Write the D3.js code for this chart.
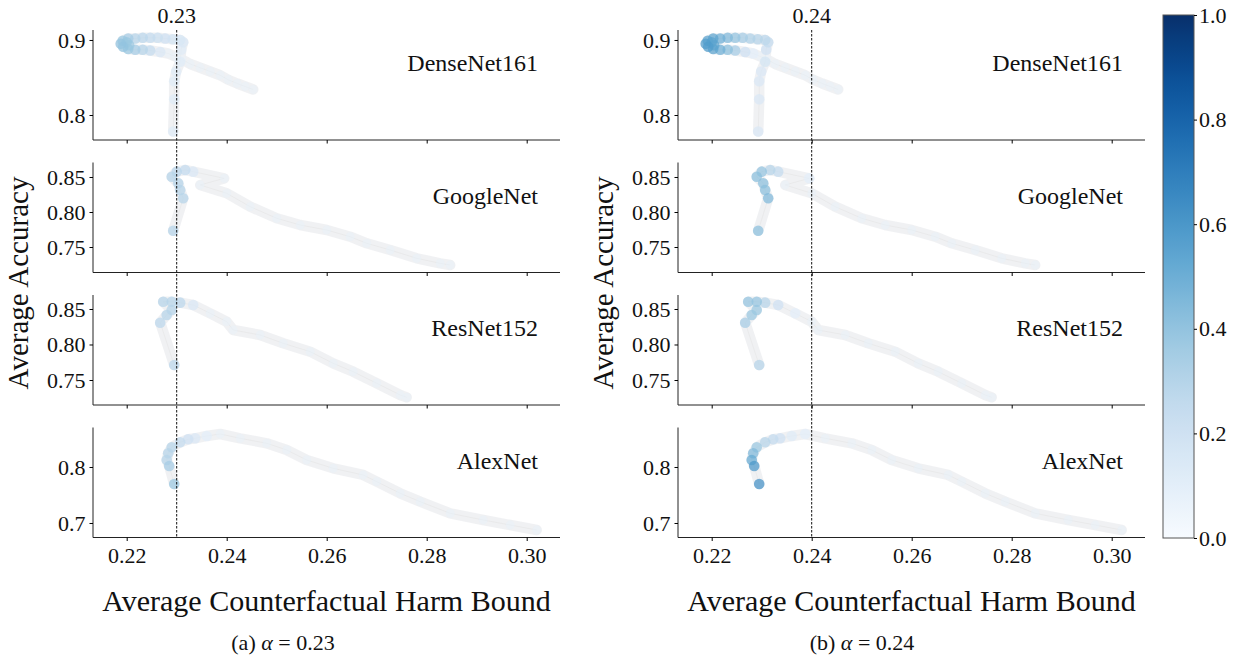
<!DOCTYPE html>
<html><head><meta charset="utf-8">
<script src="https://cdn.jsdelivr.net/npm/d3@7"></script>
<style>body{margin:0;background:#fff}svg{display:block}text{font-family:"Liberation Serif","DejaVu Serif",serif;fill:#111}</style>
</head><body><svg id="c" width="1237" height="661"></svg>
<script>
const models = ["DenseNet161","GoogleNet","ResNet152","AlexNet"];
const alphas = [0.23, 0.24];
const captionTags = ["(a)", "(b)"];
const xTicks = [0.22,0.24,0.26,0.28,0.30];
const xDomain = [0.21326, 0.30666];
const yDomains = [[0.7667,0.9133],[0.7136,0.8707],[0.7148,0.8697],[0.6741,0.8705]];
const yTicks = [[0.8,0.9],[0.75,0.80,0.85],[0.75,0.80,0.85],[0.7,0.8]];
const yFormats = [".1f",".2f",".2f",".1f"];
const cbTicks = [0.0,0.2,0.4,0.6,0.8,1.0];

// DenseNet161
const denseX = [0.2453,0.2437,0.2421,0.2403,0.2387,0.2367,0.2347,0.2327,0.2311,0.2297,0.2283,0.2267,0.2247,0.2232,0.2217,0.2203,0.2193,0.2205,0.2200,0.2188,0.2192,0.2203,0.2217,0.2232,0.2247,0.2262,0.2277,0.2292,0.2307,0.2313,0.2309,0.2307,0.2299,0.2295,0.2295,0.2293];
const denseY = [0.834,0.838,0.842,0.847,0.853,0.858,0.863,0.868,0.874,0.878,0.882,0.884,0.886,0.887,0.887,0.888,0.891,0.893,0.897,0.895,0.899,0.902,0.902,0.903,0.903,0.903,0.902,0.901,0.900,0.897,0.887,0.871,0.858,0.845,0.821,0.778];
const denseC23 = [0.08,0.08,0.08,0.08,0.08,0.08,0.08,0.08,0.08,0.08,0.08,0.15,0.25,0.3,0.35,0.38,0.4,0.38,0.38,0.4,0.38,0.35,0.3,0.28,0.25,0.22,0.2,0.18,0.16,0.15,0.12,0.12,0.12,0.12,0.12,0.12];
const denseC24 = [0.08,0.08,0.08,0.08,0.08,0.08,0.08,0.08,0.08,0.08,0.1,0.2,0.35,0.42,0.5,0.55,0.58,0.55,0.55,0.58,0.55,0.55,0.5,0.45,0.4,0.35,0.32,0.3,0.28,0.25,0.2,0.18,0.15,0.15,0.15,0.15];
// GoogleNet
const googX = [0.2847,0.2827,0.278,0.2727,0.268,0.2647,0.26,0.2547,0.25,0.2447,0.24,0.2347,0.2395,0.2333,0.2317,0.2300,0.229,0.2303,0.2307,0.2313,0.2293];
const googY = [0.7243,0.7267,0.7339,0.7457,0.7553,0.7647,0.7743,0.7814,0.791,0.8076,0.8267,0.8386,0.8481,0.8576,0.860,0.8576,0.8504,0.841,0.8314,0.8196,0.7733];
const googC23 = [0.08,0.08,0.08,0.08,0.08,0.08,0.08,0.08,0.08,0.08,0.08,0.08,0.08,0.15,0.25,0.28,0.3,0.3,0.3,0.3,0.3];
const googC24 = [0.08,0.08,0.08,0.08,0.08,0.08,0.08,0.08,0.08,0.08,0.08,0.08,0.1,0.25,0.3,0.4,0.42,0.42,0.42,0.45,0.42];
// ResNet152
const resX = [0.276,0.2747,0.27,0.2653,0.2613,0.2567,0.2513,0.2467,0.2413,0.24,0.2367,0.2333,0.2307,0.229,0.2273,0.229,0.228,0.2267,0.2295];
const resY = [0.7256,0.7289,0.7454,0.7617,0.7735,0.7899,0.8017,0.8134,0.8204,0.8321,0.8439,0.8556,0.8589,0.8603,0.8603,0.8486,0.8415,0.8307,0.7711];
const resC23 = [0.08,0.08,0.08,0.08,0.08,0.08,0.08,0.08,0.08,0.08,0.08,0.15,0.28,0.3,0.3,0.3,0.3,0.28,0.28];
const resC24 = [0.08,0.08,0.08,0.08,0.08,0.08,0.08,0.08,0.08,0.08,0.1,0.2,0.3,0.4,0.4,0.38,0.38,0.35,0.3];
// AlexNet
const alexX = [0.302,0.2967,0.2913,0.2847,0.2787,0.2747,0.27,0.2673,0.2613,0.256,0.252,0.248,0.2427,0.2387,0.236,0.2337,0.2323,0.2307,0.229,0.2283,0.228,0.2285,0.2295];
const alexY = [0.6875,0.6964,0.7054,0.7173,0.738,0.753,0.7738,0.7857,0.7976,0.8125,0.8304,0.8423,0.8512,0.8589,0.8554,0.8512,0.8495,0.8441,0.8351,0.8245,0.8125,0.8018,0.7696];
const alexC23 = [0.08,0.08,0.08,0.08,0.08,0.08,0.08,0.08,0.08,0.08,0.08,0.08,0.08,0.08,0.1,0.15,0.2,0.25,0.3,0.3,0.3,0.35,0.38];
const alexC24 = [0.08,0.08,0.08,0.08,0.08,0.08,0.08,0.08,0.08,0.08,0.08,0.08,0.08,0.1,0.12,0.2,0.25,0.3,0.38,0.45,0.52,0.6,0.62];

const series = [
  {x:denseX, y:denseY, c:[denseC23, denseC24]},
  {x:googX, y:googY, c:[googC23, googC24]},
  {x:resX, y:resY, c:[resC23, resC24]},
  {x:alexX, y:alexY, c:[alexC23, alexC24]}
];

const svg = d3.select("#c");
const panels = [{x0:93, x1:560, cx:283, ylx:18}, {x0:678, x1:1145, cx:862, ylx:603}];
const rowTops = [30, 162.5, 295, 427.5];
const rowH = 110;

panels.forEach((p, pi) => {
  const x = d3.scaleLinear().domain(xDomain).range([p.x0, p.x1]);
  models.forEach((m, mi) => {
    const top = rowTops[mi], bot = top + rowH;
    const y = d3.scaleLinear().domain(yDomains[mi]).range([bot, top]);
    const g = svg.append("g");
    const s = series[mi];
    const pts = s.x.map((v,i)=>({x:v, y:s.y[i], c:s.c[pi][i]}));
    const line = d3.line().x(d=>x(d.x)).y(d=>y(d.y));
    g.append("path").attr("d", line(pts)).attr("fill","none")
      .attr("stroke","#e3e5ea").attr("stroke-opacity",0.55).attr("stroke-width",10.5)
      .attr("stroke-linejoin","round").attr("stroke-linecap","round");
    g.append("path").attr("d", line(pts)).attr("fill","none")
      .attr("stroke","#e2e2e2").attr("stroke-opacity",0.6).attr("stroke-width",0.8);
    g.selectAll("circle").data(pts.slice().sort((a,b)=>a.c-b.c)).join("circle")
      .attr("cx",d=>x(d.x)).attr("cy",d=>y(d.y)).attr("r",d=>d.c<0.1?4.4:5.3)
      .attr("fill",d=>d3.interpolateBlues(d.c)).attr("fill-opacity",d=>d.c<0.1?0.5:0.72);
    // axes
    const ya = d3.axisLeft(y).tickValues(yTicks[mi]).tickFormat(d3.format(yFormats[mi])).tickSize(3.5);
    const yg = g.append("g").attr("transform",`translate(${p.x0},0)`).call(ya);
    yg.select(".domain").attr("d",`M0,${top}V${bot}`).attr("stroke","#222");
    yg.selectAll("text").attr("font-size",22).attr("font-family","Liberation Serif").attr("dx",-1);
    const xa = d3.axisBottom(x).tickValues(xTicks).tickFormat(mi===3 ? d3.format(".2f") : "").tickSize(3.5).tickPadding(6);
    const xg = g.append("g").attr("transform",`translate(0,${bot})`).call(xa);
    xg.select(".domain").attr("d",`M${p.x0},0H${p.x1}`).attr("stroke","#222");
    xg.selectAll("text").attr("font-size",22).attr("font-family","Liberation Serif");
    g.append("text").attr("x", p.x0+445).attr("y", top+33).attr("text-anchor","end")
      .attr("dominant-baseline","central").attr("font-size",24).text(m);
  });
  // dashed threshold
  svg.append("line").attr("x1",x(alphas[pi])).attr("x2",x(alphas[pi])).attr("y1",30).attr("y2",rowTops[3]+rowH)
    .attr("stroke","#111").attr("stroke-width",1).attr("stroke-dasharray","2.5,1.5");
  svg.append("text").attr("x",x(alphas[pi])).attr("y",23).attr("text-anchor","middle").attr("font-size",22)
    .text(d3.format(".2f")(alphas[pi]));
  svg.append("text").attr("transform",`translate(${p.ylx},283) rotate(-90)`).attr("text-anchor","middle")
    .attr("dominant-baseline","central").attr("font-size",29).text("Average Accuracy");
  svg.append("text").attr("x",(p.x0+p.x1)/2).attr("y",611).attr("text-anchor","middle").attr("font-size",30)
    .text("Average Counterfactual Harm Bound");
  const cap = svg.append("text").attr("x",p.cx).attr("y",650).attr("text-anchor","middle").attr("font-size",22);
  cap.append("tspan").text(captionTags[pi] + " ");
  cap.append("tspan").attr("font-style","italic").text("\u03b1");
  cap.append("tspan").text(" = " + d3.format(".2f")(alphas[pi]));
});

// colorbar
const cb = {x:1163, w:31, top:15, bot:538};
const defs = svg.append("defs");
const grad = defs.append("linearGradient").attr("id","cbg").attr("x1",0).attr("y1",1).attr("x2",0).attr("y2",0);
d3.range(0,1.0001,0.02).forEach(t=>grad.append("stop").attr("offset",t).attr("stop-color",d3.interpolateBlues(t)));
svg.append("rect").attr("x",cb.x).attr("y",cb.top).attr("width",cb.w).attr("height",cb.bot-cb.top)
  .attr("fill","url(#cbg)").attr("stroke","#555").attr("stroke-width",1);
const cbScale = d3.scaleLinear().domain([0,1]).range([cb.bot, cb.top]);
const cbAxis = d3.axisRight(cbScale).tickValues(cbTicks).tickFormat(d3.format(".1f")).tickSize(3).tickPadding(2);
const cbg = svg.append("g").attr("transform",`translate(${cb.x+cb.w},0)`).call(cbAxis);
cbg.select(".domain").remove();
cbg.selectAll("text").attr("font-size",22).attr("font-family","Liberation Serif");
</script></body></html>
